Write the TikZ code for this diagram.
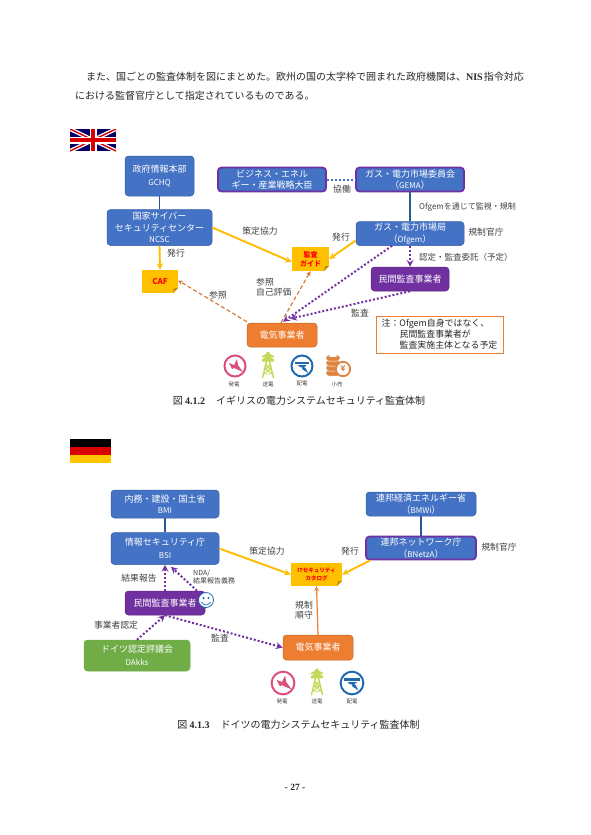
\documentclass[tikz,border=0pt]{standalone}
\usepackage{fontspec}
\setmainfont{Noto Sans CJK JP}
\newfontfamily\romanfont{Liberation Serif}
\usepackage{tikz}
\usetikzlibrary{arrows, positioning, calc}

\definecolor{govblue}{HTML}{4472C4}
\definecolor{govedge}{HTML}{2F5597}
\definecolor{auditpurple}{HTML}{7030A0}
\definecolor{plantorange}{HTML}{ED7D31}
\definecolor{accredgreen}{HTML}{70AD47}
\definecolor{noteyellow}{HTML}{FFC000}
\definecolor{noteedge}{HTML}{BF9000}
\definecolor{labelgrey}{HTML}{404040}
\definecolor{genpink}{HTML}{D9517A}
\definecolor{towerlime}{HTML}{C6D85A}
\definecolor{distblue}{HTML}{1F6AAE}
\definecolor{coinorange}{HTML}{DD8440}

\newcommand{\fs}[1]{\fontsize{#1}{#1}\selectfont}
\newcommand{\abbr}[1]{{\fontsize{8}{12}\selectfont #1}}

\tikzset{
    gen icon/.pic={
        \draw[genpink, line width=2pt, fill=white] (0,0) circle (10.5pt);
        \fill[genpink] (-6,-3) -- (-1,-1) -- (2,-7) -- (3,-1) -- (8,6) -- (-1,2) -- (-3,3) -- cycle;
    },
    tower icon/.pic={
        \draw[towerlime, line width=1.4pt] (-5.5,13) -- (-1.5,-4) (1.5,-4) -- (5.5,13);
        \draw[towerlime, line width=0.9pt] (-4.5,9) -- (4.5,9) (-3.5,4) -- (3.5,4) (-2.5,0) -- (2.5,0) (-4.3,8.5) -- (3.3,4) (4.3,8.5) -- (-3.3,4) (-2.8,0) -- (3.3,4) (2.8,0) -- (-3.3,4);
        \fill[towerlime] (-1.2,-13) -- (1.2,-13) -- (2,-11) -- (6,-9) -- (6,-7.5) -- (2,-8.5) -- (6,-5.5) -- (6,-3.5) -- (-6,-3.5) -- (-6,-5.5) -- (-2,-8.5) -- (-6,-7.5) -- (-6,-9) -- (-2,-11) -- cycle;
    },
    dist icon/.pic={
        \draw[distblue, line width=2pt, fill=white] (0,0) circle (10.5pt);
        \fill[distblue] (-7,-4.5) rectangle (7,-2);
        \fill[distblue] (-4,-0.8) -- (4.5,-0.8) -- (2,1.5) -- (3.5,2) -- (6,7) -- (0,3) -- (0.5,1.5) -- (-2,1) -- cycle;
    },
    retail icon/.pic={
        \foreach \ypos in {8,3,-2,-7}
            \draw[white, line width=0.5pt, fill=coinorange, rounded corners=2.5pt] (-12,\ypos-3) rectangle (2,\ypos+3);
        \fill[white] (-5,-9) ellipse (4.5pt and 1pt);
        \draw[coinorange, line width=1.8pt, fill=white] (5,4) circle (7.2pt);
        \node[font=\fs{8}\bfseries, text=coinorange, inner sep=0pt] (yen) at (5,4) {¥};
    }
}

\begin{document}
\begin{tikzpicture}[
    x=1pt, y=-1pt,
    >=stealth,
    box/.style={rectangle, rounded corners=3.5pt, draw, inner sep=0pt, align=center, text=white, font=\fontsize{9}{11.5}\selectfont},
    gov/.style={box, fill=govblue, draw=govedge!70!govblue, line width=0.5pt},
    lead/.style={box, fill=govblue, draw=auditpurple, line width=1.8pt},
    audit/.style={box, fill=auditpurple, draw=auditpurple!80!black, line width=0.5pt},
    plant/.style={box, fill=plantorange, draw=plantorange!80!black, line width=0.5pt},
    accred/.style={box, fill=accredgreen, draw=accredgreen, line width=0.5pt},
    guide/.style={rectangle, inner sep=0pt, align=center, text=red, fill=noteyellow, font=\bfseries\fontsize{7}{9}\selectfont,
        path picture={
            \fill[white] (path picture bounding box.south east) -- ++(-5pt,0pt) -- ++(5pt,5pt) -- cycle;
            \fill[noteedge] ([xshift=-5pt]path picture bounding box.south east) -- ++(1pt,5pt) -- ++(4pt,0pt) -- cycle;
        }},
    lbl/.style={inner sep=0pt, text=labelgrey, align=left, font=\fontsize{8.8}{10.5}\selectfont},
    para/.style={inner sep=0pt, anchor=west, text=black!85, font=\fs{10}},
    caption/.style={inner sep=0pt, text=black!85, font=\fs{10}},
    tiny/.style={inner sep=0pt, text=labelgrey, font=\fs{5.5}},
    link/.style={draw=govedge, line width=1.2pt},
    issue/.style={->, draw=noteyellow!95!orange, line width=1.9pt},
    refer/.style={->, draw=plantorange!90!black, line width=1.1pt, dash pattern=on 4pt off 2.5pt},
    auditline/.style={->, draw=auditpurple, line width=2pt, dash pattern=on 2pt off 2pt}
]
\useasboundingbox (0,0) rectangle (590,835);

% body text
\node[para] (line1) at (86,77) {また、国ごとの監査体制を図にまとめた。欧州の国の太字枠で囲まれた政府機関は、{\romanfont\bfseries NIS}\hspace{1pt}指令対応};
\node[para] (line2) at (75,96) {における監督官庁として指定されているものである。};

% UK flag
\begin{scope}
\clip (70,129) rectangle (116,151);
\fill[blue!40!black] (70,129) rectangle (116,151);
\draw[white, line width=4pt] (70,129) -- (116,151) (70,151) -- (116,129);
\draw[red!85!black, line width=1.4pt] (70,129) -- (116,151) (70,151) -- (116,129);
\draw[white, line width=7pt] (93,129) -- (93,151) (70,140) -- (116,140);
\draw[red!85!black, line width=4pt] (93,129) -- (93,151) (70,140) -- (116,140);
\end{scope}

% UK nodes
\node[gov, minimum width=69pt, minimum height=40pt] (gchq) at (159.5,176) {政府情報本部\\[1pt]\abbr{GCHQ}};
\node[gov, minimum width=105pt, minimum height=36pt, below=13pt of gchq] (ncsc) {国家サイバー\\セキュリティセンター\\\abbr{NCSC}};
\node[lead, minimum width=108pt, minimum height=24pt] (beis) at (272,179.5) {ビジネス・エネル\\ギー・産業戦略大臣};
\node[lead, minimum width=108pt, minimum height=24pt] (gema) at (410,179.5) {ガス・電力市場委員会\\（\abbr{GEMA}）};
\node[gov, minimum width=108pt, minimum height=24pt] (ofgem) at (410,233.5) {ガス・電力市場局\\（\abbr{Ofgem}）};
\node[audit, minimum width=78pt, minimum height=24pt] (ukaudit) at (410,279) {民間監査事業者};
\node[guide, minimum width=37pt, minimum height=24pt] (ukguide) at (310.5,259) {監査\\ガイド};
\node[guide, minimum width=36pt, minimum height=23pt, font=\bfseries\fs{8}] (caf) at (160,281.5) {CAF};
\node[plant, minimum width=70pt, minimum height=24pt] (ukplant) at (282,335) {電気事業者};
\node[draw=plantorange, line width=0.8pt, inner sep=0pt, minimum width=127pt, minimum height=37pt, align=left, text=black!85, font=\fontsize{8.9}{11}\selectfont] (uknote) at (439.5,334.5) {注：Ofgem自身ではなく、\\\hspace{18pt}民間監査事業者が\\\hspace{18pt}監査実施主体となる予定};

% UK connectors
\draw[link] (gchq) -- (ncsc);
\draw[link, draw=govedge!70!teal] (gema) -- (ofgem);
\draw[issue] (ncsc.south) -- (caf.north);
\draw[issue] (ncsc.east) -- ([yshift=-3pt]ukguide.west);
\draw[issue] ([yshift=-7pt]ofgem.west) -- (ukguide.east);
\draw[draw=govblue, line width=2pt, dash pattern=on 2pt off 2pt] (beis) -- (gema);
\draw[auditline] (ofgem) -- (ukaudit);
\draw[auditline] ([xshift=-18pt]ofgem.south) -- ([xshift=1pt,yshift=1pt]ukplant.north);
\draw[auditline] (ukaudit.south) -- ([xshift=8pt,yshift=4pt]ukplant.north);
\draw[refer] ([xshift=-1pt]ukplant.north) -- ([xshift=0pt]ukguide.south);
\draw[refer] ([yshift=1pt]ukplant.north west) -- ([yshift=1pt]caf.east);

% UK labels
\node[lbl] (lcoop) at (260,231) {策定協力};
\node[lbl] (lissuea) at (176,253) {発行};
\node[lbl] (lissueb) at (341,237) {発行};
\node[lbl] (lwork) at (342,189) {協働};
\node[lbl, font=\fs{8}, anchor=west] (lvia) at (419,207) {Ofgemを通じて監視・規制};
\node[lbl] (lreg) at (486,232) {規制官庁};
\node[lbl, font=\fs{8.5}, anchor=west] (lcert) at (419,257) {認定・監査委託（予定）};
\node[lbl] (laudit) at (360,313) {監査};
\node[lbl] (lref) at (218,295) {参照};
\node[lbl, anchor=west] (lself) at (256,287) {参照\\自己評価};

% UK icons
\pic at (235,366) {gen icon};
\pic at (268,365) {tower icon};
\pic at (302,366) {dist icon};
\pic at (338,365) {retail icon};
\node[tiny] (ukgen) at (234,384) {発電};
\node[tiny] (uktower) at (268,384) {送電};
\node[tiny] (ukdist) at (302,384) {配電};
\node[tiny] (ukretail) at (337,384) {小売};

\node[caption] (cap1) at (299,401) {図 {\romanfont\bfseries 4.1.2}\hspace{11pt}イギリスの電力システムセキュリティ監査体制};

% German flag
\fill[black] (70,439) rectangle (111,447);
\fill[red!85!black] (70,447) rectangle (111,455);
\fill[noteyellow!90!yellow] (70,455) rectangle (111,463);

% German nodes
\node[gov, minimum width=108pt, minimum height=28pt] (bmi) at (165,504) {内務・建設・国土省\\\abbr{BMI}};
\node[gov, minimum width=108pt, minimum height=32pt, below=14pt of bmi] (bsi) {情報セキュリティ庁\\[1pt]\abbr{BSI}};
\node[gov, minimum width=110pt, minimum height=24pt] (bmwi) at (421,504) {連邦経済エネルギー省\\（\abbr{BMWi}）};
\node[lead, minimum width=110pt, minimum height=23pt] (bnetza) at (421,548) {連邦ネットワーク庁\\（\abbr{BNetzA}）};
\node[guide, minimum width=51pt, minimum height=23pt, font=\bfseries\fontsize{5.5}{8}\selectfont] (itcat) at (316.5,574.5) {ITセキュリティ\\カタログ};
\node[audit, minimum width=80pt, minimum height=24pt] (deaudit) at (165,603) {民間監査事業者};
\node[accred, minimum width=106pt, minimum height=31pt] (dakks) at (137,655.5) {ドイツ認定評議会\\[1pt]\abbr{DAkks}};
\node[plant, minimum width=70pt, minimum height=25pt] (deplant) at (318,647.5) {電気事業者};

% smiley
\node[circle, draw=distblue, fill=white, line width=0.8pt, minimum size=15pt, inner sep=0pt] (smile) at (206,600) {};
\fill[distblue] (203.5,598) circle (1.1pt) (208.5,598) circle (1.1pt);
\draw[distblue, line width=0.7pt] (201.5,602) .. controls (204,606) and (208,606) .. (210.5,602);

% German connectors
\draw[link] (bmi) -- (bsi);
\draw[link] (bmwi) -- (bnetza);
\draw[issue] (bsi.east) -- (itcat.west);
\draw[issue] ([xshift=5pt]bnetza.south west) -- (itcat.east);
\draw[->, draw=plantorange, line width=1.2pt] (deplant.north) -- (itcat.south);
\draw[auditline] (deaudit.north) -- (bsi.south);
\draw[auditline] ([xshift=32pt]deaudit.north) -- ([xshift=6pt,yshift=-2pt]bsi.south);
\draw[auditline] (dakks.north) -- (deaudit.south);
\draw[auditline] (deaudit.south) -- (deplant.west);

% German labels
\node[lbl] (lcoopde) at (267,551) {策定協力};
\node[lbl] (lissuede) at (350,551) {発行};
\node[lbl] (lregde) at (499,547) {規制官庁};
\node[lbl, anchor=west] (lcomply) at (295,610) {規制\\順守};
\node[lbl] (lreport) at (139,578) {結果報告};
\node[lbl, font=\fontsize{7}{8.5}\selectfont, anchor=west] (lnda) at (193,577) {NDA/\\結果報告義務};
\node[lbl] (lcertde) at (116,625) {事業者認定};
\node[lbl] (lauditde) at (220,638) {監査};

% German icons
\pic[scale=1.08] at (283,683) {gen icon};
\pic[scale=1.02] at (317,682) {tower icon};
\pic[scale=1.08] at (352,683) {dist icon};
\node[tiny] (degen) at (282,701) {発電};
\node[tiny] (detower) at (317,701) {送電};
\node[tiny] (dedist) at (352,701) {配電};

\node[caption] (cap2) at (298.5,725) {図 {\romanfont\bfseries 4.1.3}\hspace{11pt}ドイツの電力システムセキュリティ監査体制};
\node[inner sep=0pt, text=black!85, font=\romanfont\bfseries\fs{9.5}] (pageno) at (295,787) {- 27 -};
\end{tikzpicture}
\end{document}
